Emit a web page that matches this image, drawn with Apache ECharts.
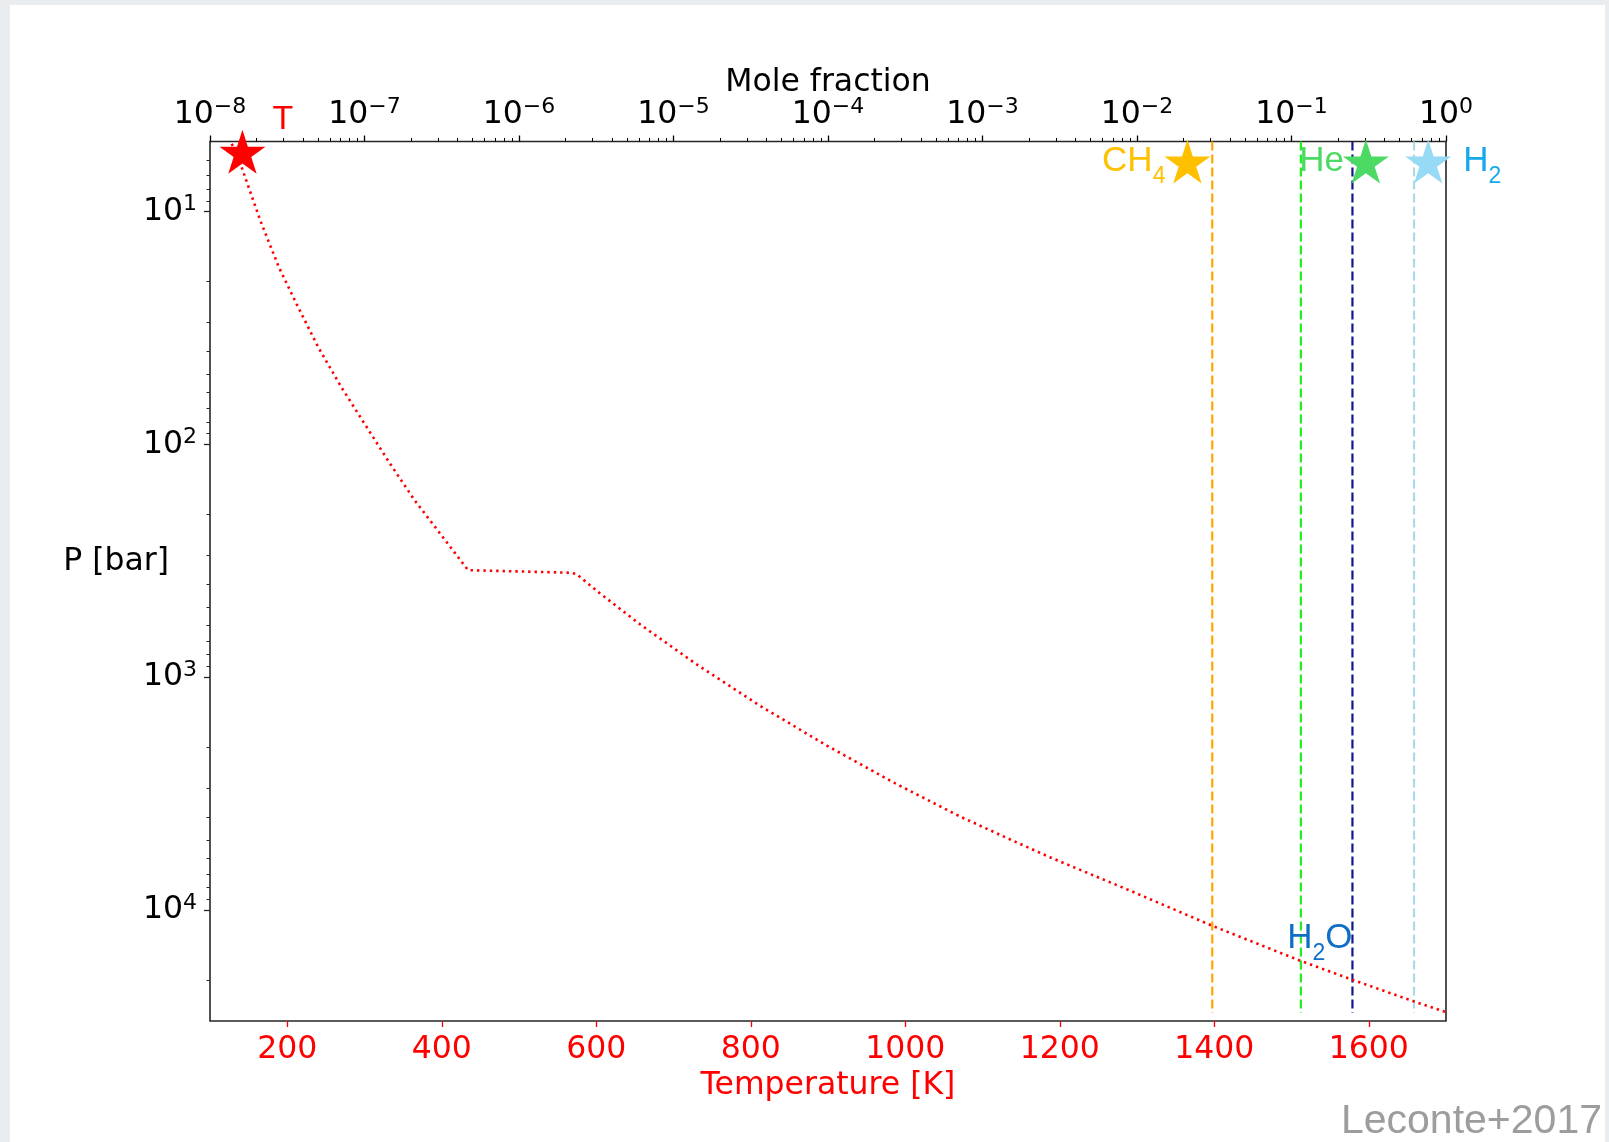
<!DOCTYPE html>
<html>
<head>
<meta charset="utf-8">
<script src="https://cdn.jsdelivr.net/npm/echarts@6/dist/echarts.min.js"></script>
<style>
html,body{margin:0;padding:0;background:#e9edf0;}
#c{width:1609px;height:1142px;}
</style>
</head>
<body>
<div id="c"></div>
<script>
// ---------------- DATA ----------------
// Temperature profile (T in K, P in bar)
const profileT = [128, 134, 141, 165, 189, 212, 240, 270, 300, 333, 365, 398, 434, 566, 574, 605, 657, 730, 812, 899, 985, 1071, 1136, 1188, 1292, 1398, 1512, 1580, 1659, 1700];
const profileP = [5.12, 5.53, 6.45, 10.9, 17.3, 24.9, 38.2, 56.8, 81.5, 121, 174, 242, 347, 356, 360, 437, 594, 882, 1328, 1972, 2837, 3970, 4983, 5953, 8287, 11718, 16556, 20011, 24750, 27480];

// Marker of the temperature profile
const tStarT = 142;
const tStarP = 5.54;

// Constant mole-fraction profiles (dashed vertical lines)
const lineSpecies = ['CH4', 'He', 'H2O', 'H2'];
const lineFractions = [0.0307, 0.115, 0.248, 0.621];
const linePressureRange = [5, 27700];

// Star markers of the species
const starSpecies = ['CH4', 'He', 'H2'];
const starFractions = [0.0212, 0.303, 0.767];
const starPressure = 6.1;

// H2O label anchor
const h2oLabelFraction = 0.248;
const h2oLabelPressure = 13250;

// Tick values
const tempTicks = [200, 400, 600, 800, 1000, 1200, 1400, 1600];
const fracTicks = [1e-8, 1e-7, 1e-6, 1e-5, 1e-4, 1e-3, 1e-2, 1e-1, 1];
const pressTicks = [10, 100, 1000, 10000];
const minorMultipliers = [2, 3, 4, 5, 6, 7, 8, 9];
const pressMinorTicks = [6, 7, 8, 9, 20, 30, 40, 50, 60, 70, 80, 90, 200, 300, 400, 500, 600, 700, 800, 900,
  2000, 3000, 4000, 5000, 6000, 7000, 8000, 9000, 20000];

// ---------------- STYLE ----------------
const fracMinorTicks = [];
fracTicks.slice(0, -1).forEach(d => minorMultipliers.forEach(m => fracMinorTicks.push(+(d * m).toPrecision(3))));

const lineColors = ['#FFA500', '#22EE22', '#14148F', '#ADD8E6'];
const starColors = ['#FFC000', '#4CD964', '#96DAF6'];
const starTextColors = ['#FFC000', '#4CD964', '#14A9EA'];
const FONT = 'DejaVu Sans';
const LFONT = 'Liberation Sans';
const FS = 31.5;

// star path (matplotlib-like 5-point star)
let starPath = '';
for (let k = 0; k < 10; k++) {
  const a = (-90 + 36 * k) * Math.PI / 180;
  const r = k % 2 === 0 ? 100 : 38.2;
  starPath += (k === 0 ? 'M' : 'L') + (r * Math.cos(a)).toFixed(2) + ' ' + (r * Math.sin(a)).toFixed(2) + ' ';
}
starPath = 'path://' + starPath + 'Z';

function pow10(v) {
  const e = Math.round(Math.log10(v));
  const s = e < 0 ? '\u2212' + (-e) : String(e);
  return '{b|10}{s|' + s + '}';
}
const supRich = {
  b: {fontSize: FS, lineHeight: 36, fontFamily: FONT, color: '#000'},
  s: {fontSize: 22, lineHeight: 22, verticalAlign: 'top', fontFamily: FONT, color: '#000'}
};
function subRich(color) {
  return {
    m: {fontSize: 35, lineHeight: 52, fontFamily: LFONT, color: color},
    s: {fontSize: 23, lineHeight: 23, verticalAlign: 'top', padding: [29.5, 0, 0, 0], fontFamily: LFONT, color: color}
  };
}
function speciesText(name) {
  const m = name.match(/^([A-Za-z]+?)(\d)?([A-Za-z]*)$/);
  let s = '{m|' + m[1] + '}';
  if (m[2]) s += '{s|' + m[2] + '}';
  if (m[3]) s += '{m|' + m[3] + '}';
  return s;
}

const series = [];

// dashed vertical lines
lineSpecies.forEach((name, i) => {
  series.push({
    type: 'line', name: name + ' profile', xAxisIndex: 1, yAxisIndex: 0,
    data: linePressureRange.map(p => [lineFractions[i], p]),
    symbol: 'none', silent: true, z: 2,
    lineStyle: {color: lineColors[i], width: 2.2, type: [9, 4]}
  });
});

// temperature profile
series.push({
  type: 'line', name: 'T', xAxisIndex: 0, yAxisIndex: 0,
  data: profileT.map((t, i) => [t, profileP[i]]),
  symbol: 'none', silent: true, z: 3,
  lineStyle: {color: '#ff0000', width: 2.6, type: [2.4, 4], cap: 'butt'}
});

// red star + T label
series.push({
  type: 'scatter', xAxisIndex: 0, yAxisIndex: 0, z: 5, silent: true,
  data: [[tStarT, tStarP]],
  symbol: starPath, symbolSize: [46, 44],
  itemStyle: {color: '#ff0000', opacity: 1},
  label: {show: true, position: 'right', distance: 7, offset: [0, -32],
    formatter: 'T', color: '#ff0000', fontSize: 34, fontFamily: LFONT}
});

// species stars
starSpecies.forEach((name, i) => {
  series.push({
    type: 'scatter', xAxisIndex: 1, yAxisIndex: 0, z: 5, silent: true,
    data: [[starFractions[i], starPressure]],
    symbol: starPath, symbolSize: [46, 44],
    itemStyle: {color: starColors[i], opacity: 1},
    label: {show: true, position: name === 'H2' ? 'right' : 'left', distance: name === 'H2' ? 12 : -1,
      formatter: speciesText(name), rich: subRich(starTextColors[i])}
  });
});

// H2O label
series.push({
  type: 'scatter', xAxisIndex: 1, yAxisIndex: 0, z: 5, silent: true,
  data: [[h2oLabelFraction, h2oLabelPressure]],
  symbolSize: 0, itemStyle: {opacity: 1},
  label: {show: true, position: 'left', distance: 0,
    formatter: speciesText('H2O'), rich: subRich('#0F6FC6')}
});

const chart = echarts.init(document.getElementById('c'), null, {renderer: 'canvas'});
chart.setOption({
  backgroundColor: '#e9edf0',
  animation: false,
  graphic: [
    {type: 'rect', z: -10, shape: {x: 10, y: 5, width: 1595, height: 1137}, style: {fill: '#ffffff'}},
    {type: 'text', z: 10, style: {text: 'Leconte+2017', x: 1602, y: 1142, textAlign: 'right', textVerticalAlign: 'bottom',
      font: '41px "Liberation Sans"', fill: '#9d9d9d'}}
  ],
  grid: {left: 210, top: 141.5, width: 1236, height: 879.5, show: true, borderColor: '#262626', borderWidth: 1.6,
    backgroundColor: 'rgba(0,0,0,0)', containLabel: false, outerBoundsMode: 'none'},
  xAxis: [
    {
      type: 'value', position: 'bottom', min: 100, max: 1700,
      axisLine: {show: false}, splitLine: {show: false},
      axisTick: {show: true, length: 6, customValues: tempTicks, lineStyle: {color: '#ff0000', width: 1.3}},
      axisLabel: {customValues: tempTicks, formatter: v => String(v), color: '#ff0000', fontSize: FS, fontFamily: FONT, margin: 13},
      name: 'Temperature [K]', nameLocation: 'middle', nameGap: 49, nameMoveOverlap: false,
      nameTextStyle: {color: '#ff0000', fontSize: FS, fontFamily: FONT}
    },
    {
      type: 'log', logBase: 10, position: 'top', min: 1e-8, max: 1,
      axisLine: {show: false}, splitLine: {show: false},
      axisTick: {show: true, length: 6, customValues: fracTicks, lineStyle: {color: '#000', width: 1.3}},
      axisLabel: {customValues: fracTicks, formatter: pow10, rich: supRich, margin: 9},
      name: 'Mole fraction', nameLocation: 'middle', nameGap: 43, nameMoveOverlap: false,
      nameTextStyle: {color: '#000', fontSize: FS, fontFamily: FONT}
    },
    {
      type: 'log', logBase: 10, position: 'top', min: 1e-8, max: 1,
      axisLine: {show: false}, splitLine: {show: false},
      axisTick: {show: true, length: 3.5, customValues: fracMinorTicks, lineStyle: {color: '#000', width: 1}},
      axisLabel: {show: false}
    }
  ],
  yAxis: [
    {
      type: 'log', logBase: 10, inverse: true, min: 5, max: 30000, position: 'left',
      axisLine: {show: false}, splitLine: {show: false},
      axisTick: {show: true, length: 6, customValues: pressTicks, lineStyle: {color: '#262626', width: 1.3}},
      axisLabel: {customValues: pressTicks, formatter: pow10, rich: supRich, margin: 13},
      name: 'P [bar]', nameLocation: 'middle', nameRotate: 0, nameGap: 41, nameMoveOverlap: false,
      nameTextStyle: {color: '#000', fontSize: FS, fontFamily: FONT, verticalAlign: 'bottom', lineHeight: 38}
    },
    {
      type: 'log', logBase: 10, inverse: true, min: 5, max: 30000, position: 'left',
      axisLine: {show: false}, splitLine: {show: false},
      axisTick: {show: true, length: 3.5, customValues: pressMinorTicks, lineStyle: {color: '#262626', width: 1}},
      axisLabel: {show: false}
    }
  ],
  series: series
});
</script>
</body>
</html>
